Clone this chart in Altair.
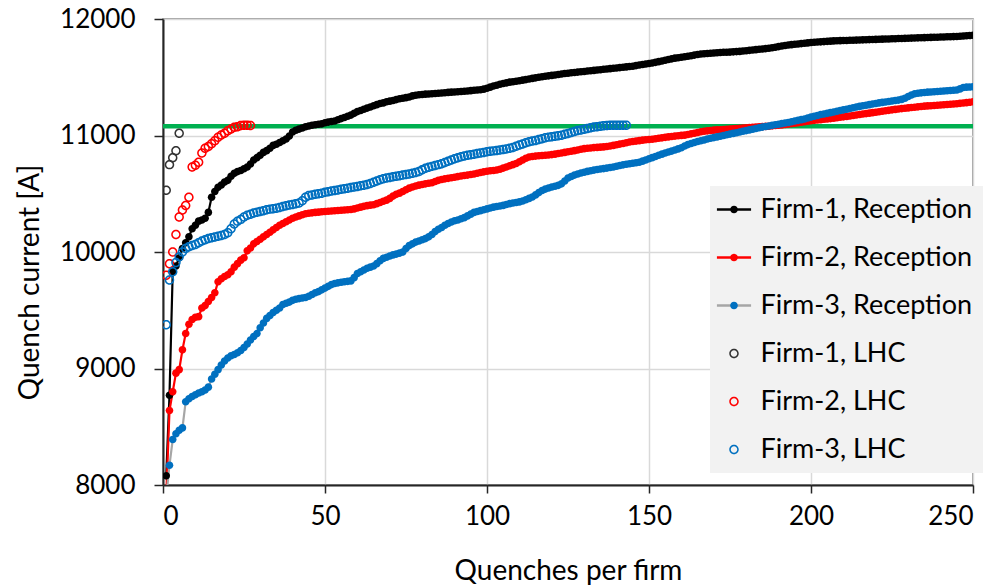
import altair as alt
import pandas as pd

NAMES = ["Firm-1, Reception", "Firm-2, Reception", "Firm-3, Reception",
         "Firm-1, LHC", "Firm-2, LHC", "Firm-3, LHC"]
LINE_COLORS = ["#000000", "#ff0000", "#a6a6a6", "transparent", "transparent", "transparent"]
DOT_COLORS = ["#000000", "#ff0000", "#0070c0", "#333333", "#ff0000", "#0070c0"]
LIMIT = [11080]
X_TICKS = [0, 50, 100, 150, 200, 250]
Y_TICKS = [8000, 9000, 10000, 11000, 12000]

F1_REC = [8080, 8770, 9830, 9880, 9950, 10030, 10080, 10130, 10200, 10230,
          10265, 10275, 10290, 10340, 10470, 10520, 10555, 10575, 10600, 10615,
          10650, 10675, 10690, 10700, 10715, 10730, 10755, 10790, 10810, 10830,
          10855, 10870, 10890, 10915, 10925, 10940, 10955, 10970, 10995, 11030,
          11045, 11055, 11065, 11075, 11082, 11088, 11092, 11096, 11100, 11110,
          11115, 11120, 11125, 11135, 11145, 11155, 11165, 11175, 11190, 11205,
          11215, 11225, 11235, 11245, 11255, 11265, 11275, 11280, 11290, 11295,
          11300, 11308, 11315, 11320, 11325, 11330, 11340, 11345, 11350, 11352,
          11355, 11356, 11358, 11360, 11362, 11365, 11367, 11370, 11372, 11373,
          11375, 11378, 11380, 11382, 11385, 11388, 11390, 11393, 11398, 11405,
          11415, 11425, 11432, 11440, 11447, 11452, 11458, 11462, 11466, 11470,
          11475, 11480, 11485, 11490, 11495, 11500, 11504, 11508, 11512, 11516,
          11520, 11524, 11528, 11532, 11535, 11538, 11541, 11544, 11547, 11550,
          11553, 11556, 11559, 11562, 11565, 11568, 11571, 11574, 11577, 11580,
          11583, 11586, 11589, 11592, 11595, 11600, 11605, 11610, 11614, 11618,
          11622, 11628, 11634, 11640, 11646, 11652, 11658, 11664, 11668, 11672,
          11676, 11680, 11685, 11690, 11695, 11700, 11702, 11704, 11706, 11708,
          11710, 11712, 11714, 11715, 11716, 11718, 11720, 11722, 11725, 11728,
          11731, 11734, 11737, 11740, 11743, 11746, 11749, 11753, 11758, 11763,
          11768, 11773, 11777, 11780, 11783, 11786, 11789, 11792, 11795, 11798,
          11800, 11802, 11804, 11806, 11808, 11810, 11812, 11813, 11814, 11815,
          11816, 11817, 11818, 11819, 11820, 11821, 11822, 11823, 11824, 11825,
          11826, 11827, 11828, 11829, 11830, 11831, 11832, 11833, 11834, 11835,
          11836, 11837, 11838, 11839, 11840, 11841, 11842, 11843, 11844, 11845,
          11846, 11847, 11848, 11849, 11850, 11852, 11854, 11856, 11858, 11860]

F2_REC = [7900, 8640, 8800, 8960, 8990, 9160, 9300, 9380, 9420, 9440,
          9445, 9520, 9540, 9575, 9610, 9650, 9745, 9770, 9790, 9805,
          9830, 9870, 9900, 9930, 9950, 10010, 10035, 10070, 10090, 10110,
          10130, 10150, 10170, 10190, 10210, 10230, 10245, 10260, 10275, 10290,
          10300, 10310, 10320, 10328, 10332, 10336, 10340, 10342, 10345, 10348,
          10350, 10352, 10354, 10356, 10358, 10360, 10362, 10365, 10370, 10378,
          10385, 10392, 10398, 10402, 10405, 10415, 10425, 10435, 10445, 10460,
          10480, 10495, 10505, 10520, 10535, 10548, 10558, 10566, 10574, 10580,
          10585, 10590, 10595, 10605, 10615, 10622, 10628, 10632, 10637, 10642,
          10647, 10652, 10656, 10660, 10665, 10670, 10676, 10682, 10688, 10693,
          10697, 10700, 10704, 10710, 10720, 10730, 10740, 10750, 10760, 10775,
          10790, 10805, 10815, 10820, 10823, 10826, 10828, 10830, 10832, 10836,
          10840, 10845, 10850, 10855, 10860, 10865, 10870, 10876, 10882, 10887,
          10890, 10893, 10896, 10898, 10900, 10902, 10905, 10910, 10915, 10920,
          10926, 10932, 10938, 10944, 10948, 10952, 10956, 10960, 10963, 10966,
          10968, 10972, 10976, 10980, 10984, 10988, 10992, 10995, 10998, 11001,
          11003, 11008, 11014, 11020, 11026, 11032, 11036, 11040, 11043, 11046,
          11048, 11050, 11052, 11054, 11056, 11058, 11060, 11062, 11064, 11066,
          11068, 11070, 11072, 11074, 11076, 11078, 11080, 11083, 11086, 11088,
          11090, 11094, 11098, 11102, 11106, 11110, 11114, 11118, 11122, 11126,
          11130, 11133, 11136, 11139, 11142, 11145, 11148, 11152, 11156, 11160,
          11164, 11168, 11172, 11176, 11180, 11184, 11188, 11192, 11196, 11200,
          11204, 11208, 11212, 11216, 11220, 11224, 11228, 11231, 11234, 11237,
          11240, 11243, 11246, 11249, 11252, 11254, 11256, 11258, 11260, 11262,
          11264, 11266, 11268, 11270, 11273, 11276, 11279, 11282, 11286, 11290]

F3_REC = [7900, 8170, 8390, 8440, 8470, 8490, 8715, 8740, 8760, 8775,
          8790, 8800, 8815, 8840, 8910, 8950, 8990, 9030, 9065, 9090,
          9110, 9120, 9135, 9155, 9180, 9210, 9245, 9275, 9300, 9350,
          9390, 9430, 9455, 9480, 9500, 9520, 9550, 9560, 9570, 9585,
          9595, 9600, 9605, 9610, 9620, 9635, 9650, 9660, 9675, 9690,
          9705, 9720, 9730, 9735, 9740, 9745, 9748, 9752, 9780, 9815,
          9830, 9845, 9860, 9870, 9880, 9900, 9925, 9945, 9955, 9965,
          9975, 9982, 9990, 10000, 10030, 10055, 10070, 10085, 10095, 10105,
          10115, 10130, 10150, 10175, 10195, 10210, 10230, 10245, 10258, 10268,
          10275, 10285, 10295, 10310, 10325, 10340, 10348, 10355, 10362, 10370,
          10378, 10385, 10390, 10395, 10400, 10408, 10415, 10420, 10425, 10430,
          10438, 10448, 10460, 10472, 10490, 10510, 10528, 10540, 10550, 10558,
          10565, 10572, 10585, 10610, 10635, 10648, 10660, 10670, 10678, 10685,
          10692, 10698, 10703, 10708, 10712, 10716, 10720, 10725, 10730, 10736,
          10742, 10748, 10753, 10758, 10762, 10766, 10770, 10780, 10790, 10800,
          10810, 10820, 10830, 10840, 10850, 10858, 10866, 10875, 10885, 10895,
          10910, 10922, 10932, 10940, 10948, 10955, 10962, 10970, 10976, 10982,
          10988, 10994, 11000, 11006, 11012, 11018, 11024, 11030, 11036, 11042,
          11048, 11054, 11060, 11066, 11072, 11077, 11082, 11087, 11092, 11097,
          11102, 11107, 11112, 11118, 11124, 11130, 11136, 11142, 11150, 11158,
          11165, 11172, 11180, 11185, 11190, 11196, 11202, 11208, 11214, 11220,
          11226, 11232, 11238, 11244, 11250, 11255, 11260, 11265, 11270, 11275,
          11280, 11284, 11288, 11292, 11296, 11300, 11304, 11310, 11320, 11335,
          11348, 11358, 11362, 11366, 11369, 11372, 11374, 11376, 11378, 11380,
          11382, 11384, 11386, 11388, 11390, 11400, 11412, 11415, 11416, 11418]

F1_LHC = [10530, 10750, 10810, 10870, 11020]

F2_LHC = [9800, 9900, 10000, 10150, 10300, 10360, 10400, 10470, 10730, 10745,
          10770, 10850, 10890, 10905, 10930, 10955, 10985, 11005, 11020, 11040,
          11055, 11070, 11075, 11085, 11088, 11088, 11085]

F3_LHC = [9375, 9760, 9830, 9910, 9960, 10000, 10030, 10045, 10055, 10065,
          10080, 10095, 10105, 10115, 10122, 10128, 10135, 10142, 10150, 10165,
          10200, 10240, 10265, 10280, 10300, 10315, 10325, 10335, 10342, 10348,
          10355, 10362, 10368, 10372, 10376, 10382, 10390, 10398, 10403, 10408,
          10414, 10420, 10440, 10470, 10485, 10490, 10495, 10500, 10505, 10512,
          10518, 10523, 10528, 10533, 10538, 10543, 10548, 10553, 10558, 10563,
          10568, 10573, 10580, 10588, 10598, 10610, 10620, 10628, 10635, 10640,
          10645, 10650, 10655, 10660, 10665, 10670, 10675, 10682, 10692, 10705,
          10718, 10728, 10735, 10742, 10750, 10758, 10768, 10778, 10790, 10800,
          10810, 10818, 10825, 10830, 10835, 10840, 10845, 10850, 10855, 10860,
          10864, 10868, 10872, 10876, 10880, 10885, 10890, 10898, 10908, 10918,
          10928, 10938, 10946, 10952, 10958, 10965, 10972, 10980, 10986, 10990,
          10994, 10998, 11002, 11010, 11018, 11026, 11034, 11042, 11048, 11054,
          11060, 11066, 11072, 11076, 11080, 11083, 11085, 11087, 11088, 11088,
          11088, 11088, 11088]

SERIES = [F1_REC, F2_REC, F3_REC, F1_LHC, F2_LHC, F3_LHC]

# symbol shapes (unit box -1..1): small filled dot and thin ring (open circle)
DOT = "M0.8,0A0.8,0.8 0 1,1 -0.8,0A0.8,0.8 0 1,1 0.8,0Z"
RING = ("M1,0A1,1 0 1,1 -1,0A1,1 0 1,1 1,0Z"
        "M0.68,0A0.68,0.68 0 1,0 -0.68,0A0.68,0.68 0 1,0 0.68,0Z")
SHAPES = [DOT, DOT, DOT, RING, RING, RING]
PKEYS = ["p" + n for n in NAMES]

rows = []
for name, vals in zip(NAMES, SERIES):
    for i, v in enumerate(vals, start=1):
        rows.append({"q": i, "I": v, "lkey": name, "pkey": "p" + name})
df = pd.DataFrame(rows)
rec = df[df["lkey"].str.contains("Reception")]

FONT = "Lato"
SYM_SIZE = 90

x_enc = alt.X("q:Q", scale=alt.Scale(domain=[0, 250], nice=False),
              axis=alt.Axis(values=X_TICKS, title="Quenches per firm", format="d",
                            labelPadding=10, titleX=405, titleY=86,
                            titleFontSize=28, titleBaseline="middle"))
y_enc = alt.Y("I:Q", scale=alt.Scale(domain=[8000, 12000], nice=False),
              axis=alt.Axis(values=Y_TICKS, title="Quench current [A]", format="d",
                            labelPadding=19, tickSize=9, titleX=-133, titleY=263,
                            titleFontSize=28, titleAngle=-90,
                            titleBaseline="middle", titleAlign="center"))

common_legend = dict(orient="none", legendX=547, legendY=167, padding=10,
                     symbolSize=SYM_SIZE, symbolOffset=0.5, title=None,
                     labelFont=FONT, labelFontSize=27, rowPadding=20,
                     labelOffset=13, labelLimit=0)

line_legend = alt.Legend(symbolType="M-3.6,0H3.6", symbolStrokeWidth=2.5,
                         labelColor="#000000", fillColor="#f2f2f2",
                         **common_legend)
point_legend = alt.Legend(symbolStrokeWidth=0, labelExpr="' '",
                          fillColor="transparent", **common_legend)

limit = alt.Chart(pd.DataFrame({"I": LIMIT})).mark_rule(
    color="#00b050", strokeWidth=4.5).encode(y=y_enc)

lines = alt.Chart(rec).mark_line(strokeWidth=2.2, clip=True).encode(
    x=x_enc, y=y_enc,
    stroke=alt.Stroke("lkey:N", scale=alt.Scale(domain=NAMES, range=LINE_COLORS),
                      legend=line_legend),
    order="q:Q")

points = alt.Chart(df).mark_point(filled=True, size=SYM_SIZE, strokeWidth=0,
                                  opacity=1, clip=True).encode(
    x=x_enc, y=y_enc,
    fill=alt.Fill("pkey:N", scale=alt.Scale(domain=PKEYS, range=DOT_COLORS),
                  legend=point_legend),
    shape=alt.Shape("pkey:N", scale=alt.Scale(domain=PKEYS, range=SHAPES),
                    legend=point_legend))

chart = alt.layer(limit, lines, points).properties(
    width=810, height=466,
    padding={"left": 163, "top": 19, "right": 34, "bottom": 101},
    autosize=alt.AutoSizeParams(type="none"),
).configure(font=FONT).configure_view(
    stroke="#7f7f7f", strokeWidth=1.5
).configure_axis(
    labelFont=FONT, labelFontSize=26, labelColor="#000000",
    titleFont=FONT, titleColor="#000000", titleFontWeight="normal",
    gridColor="#d9d9d9", gridWidth=1.5,
    domainColor="#262626", domainWidth=2,
    tickColor="#262626", tickWidth=1.5, tickSize=8,
)

chart.save("out.html", embed_options={"renderer": "svg", "actions": False})
